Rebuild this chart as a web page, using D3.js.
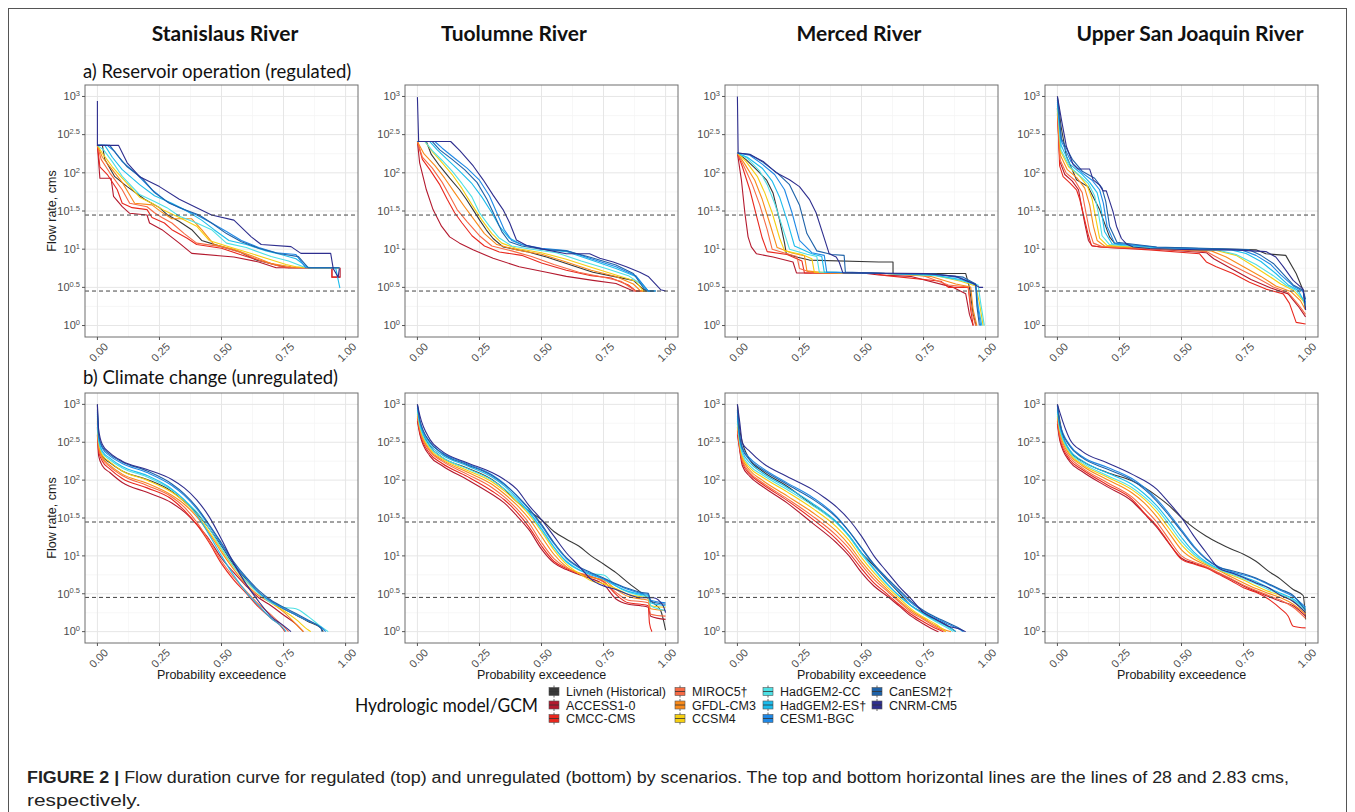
<!DOCTYPE html>
<meta charset="utf-8">
<script src="https://d3js.org/d3.v7.min.js"></script>
<style>
  body { margin: 0; background: #fff; }
  .tick-lab { font-family: "Liberation Sans", Arial, sans-serif; font-size: 11px; fill: #4d4d4d; }
  .ax-title { font-family: "Liberation Sans", Arial, sans-serif; font-size: 12.5px; fill: #1a1a1a; }
  .leg-lab { font-family: "Liberation Sans", Arial, sans-serif; font-size: 12.5px; fill: #1a1a1a; }
</style>
<svg></svg>
<script>

// ---------- DATA ----------

var seriesNames = ["Livneh (Historical)", "ACCESS1-0", "CMCC-CMS", "MIROC5\u2020", "GFDL-CM3", "CCSM4",
  "HadGEM2-CC", "HadGEM2-ES\u2020", "CESM1-BGC", "CanESM2\u2020", "CNRM-CM5"];
var seriesColors = ["#383838", "#b3192e", "#e8281e", "#f66a45", "#f98a1a", "#f5cf12",
  "#4ee0e4", "#1cbcec", "#1f88e5", "#1f62a8", "#2e2e8e"];

var rivers = ["Stanislaus River", "Tuolumne River", "Merced River", "Upper San Joaquin River"];
var xTicks = [0, 0.25, 0.5, 0.75, 1];
var yTickExps = [0, 0.5, 1, 1.5, 2, 2.5, 3];
var thresholds = [28, 2.83]; // cms

// flow duration curves: [probability exceedence, flow cms], one list per series (order of seriesNames)

// a) regulated
var stanReg = [
  [[0,229],[0.02,229],[0.03,149],[0.07,89],[0.12,66],[0.19,45],[0.25,35],[0.28,28.5],[0.33,23],[0.38,18],[0.42,13],[0.5,10.8],[0.57,9.3],[0.64,7.2],[0.72,6.2],[0.77,5.7],[0.975,5.7]],
  [[0,229],[0.01,85],[0.055,85],[0.065,49],[0.10,36],[0.13,29.5],[0.20,28],[0.21,22],[0.26,18],[0.33,12],[0.38,8.8],[0.55,7.9],[0.65,6.8],[0.72,5.7],[0.945,5.7],[0.945,4.3],[0.978,4.3],[0.978,5.7]],
  [[0,229],[0.01,120],[0.04,95],[0.08,60],[0.10,40],[0.14,35],[0.20,33],[0.22,26],[0.27,22],[0.3,18],[0.36,14],[0.40,11.5],[0.5,10.3],[0.6,8],[0.7,6.5],[0.76,5.7],[0.945,5.7],[0.945,4.3],[0.978,4.3]],
  [[0,229],[0.015,150],[0.05,100],[0.1,60],[0.13,40],[0.2,36],[0.23,30],[0.26,26],[0.3,22],[0.35,16],[0.4,12],[0.5,10.8],[0.58,9],[0.66,7],[0.74,5.9],[0.8,5.7],[0.975,5.7]],
  [[0,229],[0.02,160],[0.06,110],[0.1,75],[0.15,40],[0.22,38],[0.25,32],[0.3,25],[0.38,25],[0.42,18],[0.47,11.5],[0.55,10],[0.63,8],[0.7,6.5],[0.78,5.9],[0.83,5.7],[0.975,5.7]],
  [[0,229],[0.02,180],[0.06,120],[0.1,85],[0.17,48],[0.22,40],[0.27,32],[0.33,26],[0.4,20],[0.45,13],[0.52,11],[0.6,9.2],[0.68,7.6],[0.76,6.3],[0.8,5.9],[0.85,5.7],[0.975,5.7]],
  [[0,229],[0.025,200],[0.06,140],[0.1,90],[0.17,52],[0.23,42],[0.28,35],[0.33,27],[0.4,22],[0.46,18],[0.52,12],[0.6,10.5],[0.7,8],[0.77,7],[0.83,5.9],[0.87,5.7],[0.975,5.7]],
  [[0,229],[0.03,229],[0.06,160],[0.1,110],[0.17,70],[0.23,50],[0.3,40],[0.35,33],[0.42,24],[0.47,18],[0.53,13],[0.6,11.5],[0.68,9.5],[0.74,8.5],[0.8,7.5],[0.85,5.7],[0.96,5.7],[0.977,3.1]],
  [[0,229],[0.04,229],[0.07,190],[0.1,140],[0.16,95],[0.22,60],[0.28,42],[0.33,35],[0.4,28],[0.46,22],[0.52,17],[0.58,13],[0.65,10.5],[0.72,9],[0.8,8.5],[0.84,5.7],[0.975,5.7]],
  [[0,229],[0.05,229],[0.08,170],[0.12,120],[0.18,85],[0.23,55],[0.29,40],[0.35,33],[0.41,28],[0.46,22],[0.52,16],[0.58,12.5],[0.65,10.3],[0.73,8.8],[0.81,8],[0.85,5.7],[0.975,5.7]],
  [[0,870],[0,229],[0.085,229],[0.12,135],[0.17,89],[0.25,66],[0.33,45],[0.40,35],[0.46,28],[0.55,24],[0.62,14.5],[0.66,11.5],[0.78,10.8],[0.82,8.8],[0.94,8.8],[0.95,5.6],[0.97,4.3],[0.975,5.6]]
];

var tuolReg = [
  [[0,257],[0.036,257],[0.056,174],[0.09,123],[0.13,85],[0.17,60],[0.197,45],[0.224,33],[0.251,24],[0.278,17.8],[0.305,13.8],[0.345,10.7],[0.44,9.3],[0.52,7.9],[0.6,6.5],[0.707,5.0],[0.79,4.4],[0.87,3.9],[0.91,3.0],[0.935,2.83],[0.96,2.83]],
  [[0,257],[0.009,135],[0.036,60],[0.063,33],[0.097,20],[0.13,14.5],[0.17,12],[0.224,9.8],[0.305,7.6],[0.41,5.9],[0.52,5.0],[0.6,4.4],[0.707,3.9],[0.8,3.55],[0.87,2.83],[0.9,2.83]],
  [[0,257],[0.02,150],[0.05,110],[0.09,70],[0.12,45],[0.15,30],[0.18,22],[0.22,15],[0.27,11],[0.33,9.2],[0.42,8.3],[0.5,6.6],[0.6,5.3],[0.7,4.5],[0.78,4.2],[0.85,3.4],[0.88,2.83],[0.91,2.83]],
  [[0,257],[0.02,160],[0.06,115],[0.1,75],[0.13,50],[0.16,33],[0.2,23],[0.25,15],[0.3,11],[0.38,9.5],[0.46,8],[0.55,6.3],[0.65,5],[0.75,4.3],[0.82,3.8],[0.88,2.83],[0.92,2.83]],
  [[0,257],[0.025,180],[0.07,125],[0.11,85],[0.15,55],[0.19,36],[0.23,24],[0.27,16],[0.32,11.5],[0.4,9.8],[0.5,8.6],[0.6,6.8],[0.7,5.3],[0.8,4.4],[0.87,3.5],[0.9,2.83],[0.93,2.83]],
  [[0,257],[0.03,257],[0.06,190],[0.1,135],[0.14,95],[0.18,62],[0.22,38],[0.26,24],[0.3,16],[0.34,12],[0.4,10.2],[0.5,9],[0.6,7.4],[0.7,5.8],[0.8,4.6],[0.88,3.8],[0.91,2.83],[0.94,2.83]],
  [[0,257],[0.03,257],[0.06,195],[0.1,145],[0.14,105],[0.18,72],[0.22,48],[0.25,30],[0.29,20],[0.33,14],[0.38,11],[0.46,10],[0.56,9],[0.66,7],[0.76,5.6],[0.85,4.5],[0.9,3.5],[0.93,2.83],[0.95,2.83]],
  [[0,257],[0.05,257],[0.08,200],[0.12,150],[0.17,105],[0.22,72],[0.26,48],[0.3,30],[0.33,20],[0.37,14],[0.42,11.5],[0.5,10],[0.6,9.3],[0.7,7.2],[0.8,5.6],[0.88,4.4],[0.93,2.83],[0.96,2.83]],
  [[0,257],[0.07,257],[0.1,210],[0.15,155],[0.2,115],[0.25,80],[0.29,50],[0.32,30],[0.35,18],[0.38,13],[0.42,11.5],[0.5,10.3],[0.6,9.6],[0.7,7.5],[0.8,5.9],[0.88,4.5],[0.93,2.83],[0.96,2.83]],
  [[0,257],[0.06,257],[0.09,200],[0.14,150],[0.19,110],[0.24,75],[0.28,45],[0.31,28],[0.34,17],[0.37,12.5],[0.42,11],[0.5,10],[0.6,9.5],[0.7,7.8],[0.8,6.2],[0.87,4.8],[0.92,2.83],[0.95,2.83]],
  [[0,980],[0.005,257],[0.134,257],[0.171,195],[0.225,123],[0.265,81],[0.305,51],[0.345,33],[0.372,22],[0.399,13.2],[0.44,11.2],[0.52,9.8],[0.60,8.7],[0.694,8.7],[0.735,7.6],[0.789,6.8],[0.842,5.9],[0.896,5.0],[0.93,4.4],[0.98,2.95],[1.0,2.83]]
];

var merReg = [
  [[0,182],[0.036,148],[0.077,110],[0.117,81],[0.144,54],[0.17,24],[0.19,12],[0.197,8.7],[0.238,7.9],[0.29,7.2],[0.57,6.8],[0.627,6.8],[0.627,4.8],[0.92,4.8],[0.935,3.16],[0.95,1.4],[0.962,1.0]],
  [[0,182],[0.016,81],[0.03,30],[0.043,14.5],[0.056,10.7],[0.077,8.7],[0.144,7.9],[0.224,6.8],[0.238,4.9],[0.52,4.8],[0.57,4.6],[0.7,4.4],[0.87,3.16],[0.92,2.6],[0.935,1.4],[0.95,1.0]],
  [[0,182],[0.02,120],[0.05,60],[0.08,25],[0.1,14],[0.12,9.3],[0.2,8.5],[0.26,7],[0.27,4.9],[0.55,4.8],[0.6,4.5],[0.82,3.8],[0.85,3.16],[0.93,3.16],[0.94,1.6],[0.95,1.0]],
  [[0,182],[0.03,115],[0.06,70],[0.09,38],[0.12,18],[0.14,10],[0.2,8.7],[0.24,8],[0.25,5.6],[0.3,4.9],[0.6,4.8],[0.75,4.5],[0.85,3.4],[0.93,3.2],[0.945,1.5],[0.96,1.0]],
  [[0,182],[0.03,130],[0.07,80],[0.1,45],[0.13,22],[0.16,10.5],[0.22,8.9],[0.27,8.2],[0.28,5.2],[0.35,4.9],[0.6,4.8],[0.78,4.4],[0.88,3.5],[0.94,3.2],[0.95,1.6],[0.965,1.0]],
  [[0,182],[0.035,140],[0.08,90],[0.11,55],[0.14,30],[0.17,14],[0.19,9.5],[0.26,8.5],[0.3,7.5],[0.31,5.0],[0.6,4.8],[0.8,4.5],[0.9,3.8],[0.96,3.3],[0.975,2.0],[0.99,1.0]],
  [[0,182],[0.04,155],[0.09,105],[0.12,70],[0.15,40],[0.18,20],[0.21,10],[0.28,8.6],[0.32,8],[0.33,5.0],[0.6,4.8],[0.8,4.5],[0.9,3.9],[0.97,3.4],[0.98,2.0],[0.995,1.0]],
  [[0,182],[0.04,160],[0.1,115],[0.14,78],[0.17,48],[0.2,24],[0.23,11],[0.3,8.7],[0.34,8],[0.35,5.0],[0.6,4.8],[0.79,4.6],[0.9,4.0],[0.96,3.4],[0.97,1.8],[0.985,1.0]],
  [[0,182],[0.05,170],[0.1,130],[0.15,95],[0.19,60],[0.22,30],[0.25,13],[0.3,9],[0.35,8.3],[0.36,5.0],[0.6,4.8],[0.8,4.7],[0.9,4.2],[0.96,3.5],[0.97,1.6],[0.98,1.0]],
  [[0,182],[0.05,175],[0.1,140],[0.16,100],[0.21,70],[0.25,38],[0.28,16],[0.32,9.5],[0.38,8.5],[0.43,8.3],[0.435,5.0],[0.6,4.8],[0.8,4.7],[0.91,4.3],[0.96,3.5],[0.965,1.8],[0.975,1.0]],
  [[0,1000],[0.003,182],[0.05,174],[0.104,141],[0.157,100],[0.21,81],[0.25,66],[0.29,45],[0.317,30],[0.344,16],[0.37,8.7],[0.398,7.9],[0.41,6.8],[0.425,4.9],[0.76,4.8],[0.88,4.4],[0.95,3.55],[0.975,3.16],[0.99,3.16]]
];

var usjReg = [
  [[0,1000],[0.015,400],[0.036,166],[0.077,81],[0.123,66],[0.17,33],[0.21,14.5],[0.23,12],[0.278,10.7],[0.573,10.2],[0.8,9.8],[0.84,8.7],[0.92,8.3],[0.962,4.8],[0.99,2.9],[1.0,1.6]],
  [[0,600],[0.01,140],[0.03,95],[0.06,78],[0.085,60],[0.095,40],[0.11,22],[0.125,13],[0.14,11],[0.2,10.5],[0.4,10],[0.6,9.0],[0.63,7.5],[0.7,5.6],[0.78,4.0],[0.86,3.1],[0.93,2.6],[0.97,1.8],[1.0,1.3]],
  [[0,700],[0.009,123],[0.023,89],[0.05,74],[0.077,60],[0.09,45],[0.103,30],[0.123,16],[0.137,11.2],[0.17,10.7],[0.372,9.8],[0.573,8.7],[0.6,6.8],[0.64,5.9],[0.707,4.8],[0.774,3.7],[0.84,3.0],[0.91,2.6],[0.935,1.95],[0.962,1.1],[1.0,1.05]],
  [[0,650],[0.01,150],[0.035,100],[0.07,80],[0.1,55],[0.115,30],[0.13,17],[0.145,12],[0.18,10.8],[0.4,10.1],[0.6,9.3],[0.65,7.6],[0.72,5.8],[0.8,4.3],[0.87,3.2],[0.93,2.7],[0.97,1.9],[1.0,1.4]],
  [[0,700],[0.012,170],[0.04,110],[0.08,85],[0.11,63],[0.13,38],[0.145,20],[0.16,13],[0.19,11],[0.4,10.2],[0.62,9.5],[0.68,7.9],[0.75,5.9],[0.82,4.4],[0.88,3.3],[0.94,2.8],[0.98,2.1],[1.0,1.6]],
  [[0,750],[0.013,190],[0.045,120],[0.09,90],[0.12,68],[0.14,45],[0.155,25],[0.17,14],[0.2,11.2],[0.4,10.3],[0.64,9.6],[0.72,8.3],[0.78,6.3],[0.85,4.5],[0.9,3.5],[0.95,2.9],[0.99,2.1],[1.0,1.8]],
  [[0,800],[0.014,200],[0.05,120],[0.09,92],[0.125,72],[0.15,50],[0.165,30],[0.18,15],[0.21,11.5],[0.4,10.4],[0.65,9.7],[0.72,8.5],[0.8,6.3],[0.87,4.5],[0.92,3.4],[0.96,2.9],[0.99,2.2],[1.0,1.8]],
  [[0,850],[0.015,230],[0.05,130],[0.1,95],[0.13,75],[0.16,55],[0.175,35],[0.19,17],[0.22,11.8],[0.4,10.5],[0.7,9.8],[0.76,8.8],[0.82,6.9],[0.88,4.8],[0.93,3.4],[0.97,2.9],[1.0,1.9]],
  [[0,900],[0.016,260],[0.055,140],[0.1,100],[0.14,80],[0.17,60],[0.185,40],[0.2,20],[0.23,12],[0.4,10.6],[0.74,9.8],[0.8,8.3],[0.86,6.3],[0.9,4.6],[0.95,3.3],[0.99,2.8],[1.0,2.0]],
  [[0,950],[0.016,280],[0.06,150],[0.1,105],[0.15,85],[0.18,63],[0.195,42],[0.21,20],[0.24,12.3],[0.4,10.7],[0.77,9.9],[0.82,8.3],[0.87,6.5],[0.91,4.7],[0.95,3.4],[0.99,2.9],[1.0,2.2]],
  [[0,1000],[0.016,500],[0.036,224],[0.063,129],[0.083,112],[0.13,112],[0.144,81],[0.17,69],[0.184,58],[0.197,58],[0.224,31],[0.238,20],[0.258,13.8],[0.278,11.7],[0.305,10.7],[0.372,10.2],[0.573,9.8],[0.707,9.8],[0.84,9.3],[0.88,7.9],[0.91,5.9],[0.95,3.9],[0.99,3.0],[1.0,1.6]]
];

// b) unregulated
var stanUnreg = [
  [[0,1000],[0.005,282],[0.02,209],[0.05,170],[0.1,132],[0.2,102],[0.3,71],[0.35,52],[0.4,37],[0.45,23],[0.5,13.5],[0.55,7.6],[0.6,4.9],[0.65,3.3],[0.7,2.5],[0.75,2.0],[0.8,1.66],[0.85,1.35],[0.9,1.12],[0.91,1.0]],
  [[0,398],[0.005,209],[0.02,155],[0.05,126],[0.1,93],[0.2,69],[0.3,50],[0.35,38],[0.4,26],[0.45,16.6],[0.5,9.3],[0.55,6.0],[0.6,4.0],[0.65,2.8],[0.7,2.2],[0.75,1.66],[0.8,1.26],[0.83,1.0]],
  [[0,501],[0.005,240],[0.02,178],[0.05,141],[0.1,105],[0.2,79],[0.3,56],[0.35,40],[0.4,26],[0.45,15],[0.5,7.9],[0.55,4.8],[0.6,3.2],[0.65,2.1],[0.7,1.5],[0.75,1.07],[0.755,1.0]],
  [[0,560],[0.005,263],[0.02,191],[0.05,151],[0.1,115],[0.2,85],[0.3,60],[0.35,44],[0.4,28],[0.45,15.8],[0.5,8.5],[0.55,5.2],[0.6,3.4],[0.65,2.3],[0.7,1.66],[0.75,1.17],[0.77,1.0]],
  [[0,600],[0.005,282],[0.02,200],[0.05,158],[0.1,120],[0.2,91],[0.3,63],[0.35,48],[0.4,33],[0.45,20],[0.5,11.2],[0.55,6.6],[0.6,4.2],[0.65,3.0],[0.7,2.4],[0.75,1.82],[0.8,1.26],[0.83,1.0]],
  [[0,650],[0.005,316],[0.02,214],[0.05,174],[0.1,132],[0.2,100],[0.3,69],[0.35,52],[0.4,35],[0.45,21],[0.5,12],[0.55,7.1],[0.6,4.6],[0.65,3.2],[0.7,2.4],[0.75,1.9],[0.8,1.45],[0.85,1.05],[0.86,1.0]],
  [[0,700],[0.005,331],[0.02,229],[0.05,186],[0.1,145],[0.2,110],[0.3,74],[0.35,55],[0.4,38],[0.45,23],[0.5,12.6],[0.55,7.2],[0.6,4.6],[0.65,3.2],[0.7,2.4],[0.75,2.1],[0.8,2.0],[0.85,1.58],[0.9,1.17],[0.93,1.0]],
  [[0,750],[0.005,355],[0.02,240],[0.05,195],[0.1,151],[0.2,115],[0.3,76],[0.35,55],[0.4,35],[0.45,19],[0.5,10],[0.55,5.5],[0.6,3.3],[0.65,2.2],[0.7,1.5],[0.75,1.1],[0.76,1.0]],
  [[0,800],[0.005,380],[0.02,263],[0.05,209],[0.1,166],[0.2,126],[0.3,85],[0.35,63],[0.4,42],[0.45,25],[0.5,14.1],[0.55,7.9],[0.6,5.0],[0.65,3.3],[0.7,2.5],[0.75,2.0],[0.8,1.66],[0.85,1.38],[0.9,1.15],[0.92,1.0]],
  [[0,850],[0.005,398],[0.02,275],[0.05,219],[0.1,174],[0.2,132],[0.3,89],[0.35,66],[0.4,44],[0.45,26],[0.5,14.8],[0.55,8.3],[0.6,5.2],[0.65,3.5],[0.7,2.6],[0.75,2.1],[0.8,1.74],[0.85,1.41],[0.9,1.12],[0.905,1.0]],
  [[0,1000],[0.005,468],[0.02,295],[0.05,229],[0.1,178],[0.2,138],[0.3,102],[0.35,79],[0.4,55],[0.45,33],[0.5,16.6],[0.55,7.9],[0.6,4.2],[0.65,2.5],[0.7,1.58],[0.75,1.2],[0.78,1.0]]
];

var tuolUnreg = [
  [[0,1000],[0.01,560],[0.05,282],[0.1,200],[0.2,145],[0.3,102],[0.35,76],[0.4,52],[0.45,39],[0.5,30],[0.55,21],[0.6,16.6],[0.65,13.5],[0.7,10],[0.75,7.8],[0.8,6.0],[0.85,4.4],[0.9,3.3],[0.95,2.4],[0.98,1.9],[1.0,1.05]],
  [[0,600],[0.01,400],[0.05,209],[0.1,155],[0.2,102],[0.3,65],[0.35,50],[0.4,34],[0.45,22],[0.5,12.3],[0.55,8.1],[0.6,6.6],[0.65,5.7],[0.7,5.0],[0.75,4.2],[0.8,2.7],[0.85,2.3],[0.9,2.2],[0.93,2.1],[0.94,1.6],[1.0,1.45]],
  [[0,650],[0.01,420],[0.05,224],[0.1,166],[0.2,112],[0.3,72],[0.35,55],[0.4,38],[0.45,24],[0.5,13.5],[0.55,8.5],[0.6,6.8],[0.65,5.9],[0.7,5.3],[0.75,4.6],[0.8,3.1],[0.85,2.4],[0.9,2.3],[0.93,2.2],[0.935,1.3],[0.945,1.0]],
  [[0,700],[0.01,450],[0.05,240],[0.1,178],[0.2,120],[0.3,80],[0.35,60],[0.4,42],[0.45,27],[0.5,15],[0.55,9.2],[0.6,7.0],[0.65,6.0],[0.7,5.4],[0.75,4.5],[0.8,3.3],[0.85,2.6],[0.9,2.5],[0.93,2.4],[0.94,1.7],[1.0,1.6]],
  [[0,750],[0.01,480],[0.05,250],[0.1,185],[0.2,128],[0.3,88],[0.35,66],[0.4,47],[0.45,31],[0.5,18],[0.55,10.5],[0.6,7.2],[0.65,5.9],[0.7,5.2],[0.75,4.8],[0.8,3.6],[0.85,2.9],[0.9,2.7],[0.93,2.6],[0.94,2.0],[1.0,1.9]],
  [[0,800],[0.01,500],[0.05,262],[0.1,192],[0.2,135],[0.3,95],[0.35,72],[0.4,52],[0.45,35],[0.5,21],[0.55,12],[0.6,7.8],[0.65,5.9],[0.7,4.7],[0.75,4.3],[0.8,3.7],[0.85,3.1],[0.9,2.9],[0.93,2.8],[0.94,2.2],[1.0,2.1]],
  [[0,850],[0.01,520],[0.05,275],[0.1,200],[0.2,142],[0.3,100],[0.35,77],[0.4,55],[0.45,37],[0.5,22],[0.55,12.8],[0.6,8.3],[0.65,6.5],[0.7,5.8],[0.75,5.6],[0.8,4.0],[0.85,3.3],[0.9,3.0],[0.93,2.9],[0.94,2.2],[1.0,1.9]],
  [[0,900],[0.01,560],[0.05,295],[0.1,215],[0.2,155],[0.3,110],[0.35,84],[0.4,58],[0.45,38],[0.5,23],[0.55,13.2],[0.6,8.5],[0.65,6.6],[0.7,5.6],[0.75,4.9],[0.8,4.0],[0.85,3.4],[0.9,3.1],[0.93,3.0],[0.94,2.4],[1.0,2.2]],
  [[0,950],[0.01,600],[0.05,316],[0.1,230],[0.2,165],[0.3,118],[0.35,90],[0.4,62],[0.45,41],[0.5,25],[0.55,14.5],[0.6,9.2],[0.65,7.0],[0.7,5.8],[0.75,5.0],[0.8,4.2],[0.85,3.6],[0.9,3.2],[0.93,3.1],[0.94,2.6],[1.0,2.4]],
  [[0,980],[0.01,620],[0.05,320],[0.1,225],[0.2,160],[0.3,115],[0.35,88],[0.4,63],[0.45,42],[0.5,26],[0.55,15],[0.6,9.5],[0.65,7.2],[0.7,6.0],[0.75,5.1],[0.8,4.3],[0.85,3.7],[0.9,3.3],[0.93,3.2],[0.94,2.5],[1.0,2.3]],
  [[0,1000],[0.01,708],[0.05,347],[0.1,240],[0.2,170],[0.3,126],[0.35,102],[0.4,76],[0.45,46],[0.5,30],[0.55,18.2],[0.6,11],[0.65,7.4],[0.7,4.9],[0.75,4.0],[0.8,3.6],[0.85,3.1],[0.9,2.8],[0.95,2.8],[0.99,2.2],[1.0,1.78]]
];

var merUnreg = [
  [[0,1000],[0.01,450],[0.05,186],[0.1,132],[0.2,83],[0.3,48],[0.35,37],[0.4,27.5],[0.45,18.2],[0.5,11],[0.55,7.4],[0.6,4.9],[0.65,3.3],[0.7,2.2],[0.75,1.78],[0.8,1.45],[0.85,1.18],[0.88,1.0]],
  [[0,400],[0.005,309],[0.02,155],[0.05,112],[0.1,83],[0.2,50],[0.3,27.5],[0.4,14.8],[0.45,10],[0.5,6.0],[0.55,4.0],[0.6,3.0],[0.65,2.2],[0.7,1.6],[0.75,1.26],[0.8,1.03],[0.81,1.0]],
  [[0,450],[0.005,330],[0.02,170],[0.05,120],[0.1,89],[0.2,54],[0.3,31],[0.4,16.5],[0.45,11],[0.5,6.8],[0.55,4.4],[0.6,3.2],[0.65,2.3],[0.7,1.7],[0.75,1.35],[0.8,1.1],[0.83,1.0]],
  [[0,500],[0.005,350],[0.02,180],[0.05,126],[0.1,93],[0.2,57],[0.3,34],[0.4,18.5],[0.45,12.5],[0.5,7.6],[0.55,4.9],[0.6,3.5],[0.65,2.5],[0.7,1.8],[0.75,1.45],[0.8,1.15],[0.84,1.0]],
  [[0,550],[0.005,380],[0.02,195],[0.05,135],[0.1,100],[0.2,62],[0.3,38],[0.4,21],[0.45,14],[0.5,8.4],[0.55,5.4],[0.6,3.7],[0.65,2.6],[0.7,1.9],[0.75,1.5],[0.8,1.2],[0.85,1.02],[0.86,1.0]],
  [[0,600],[0.005,400],[0.02,205],[0.05,145],[0.1,110],[0.2,70],[0.3,43],[0.4,24],[0.45,16],[0.5,9.5],[0.55,6.0],[0.6,4.0],[0.65,2.8],[0.7,2.0],[0.75,1.55],[0.8,1.25],[0.84,1.0]],
  [[0,650],[0.005,420],[0.02,220],[0.05,155],[0.1,118],[0.2,75],[0.3,47],[0.4,27],[0.45,18],[0.5,10.5],[0.55,6.6],[0.6,4.3],[0.65,3.0],[0.7,2.2],[0.75,1.7],[0.8,1.35],[0.85,1.1],[0.87,1.0]],
  [[0,700],[0.005,450],[0.02,240],[0.05,170],[0.1,125],[0.2,80],[0.3,50],[0.4,28],[0.45,18.5],[0.5,11],[0.55,6.8],[0.6,4.4],[0.65,3.0],[0.7,2.2],[0.75,1.72],[0.8,1.4],[0.85,1.15],[0.88,1.0]],
  [[0,800],[0.005,500],[0.02,270],[0.05,195],[0.1,145],[0.2,92],[0.3,60],[0.4,33],[0.45,21],[0.5,12.5],[0.55,7.6],[0.6,5.0],[0.65,3.4],[0.7,2.4],[0.75,1.85],[0.8,1.5],[0.85,1.25],[0.9,1.05],[0.91,1.0]],
  [[0,850],[0.005,520],[0.02,260],[0.05,185],[0.1,138],[0.2,88],[0.3,57],[0.4,32],[0.45,21],[0.5,12.8],[0.55,7.8],[0.6,5.2],[0.65,3.6],[0.7,2.5],[0.75,1.9],[0.8,1.55],[0.85,1.3],[0.9,1.08],[0.915,1.0]],
  [[0,1000],[0.01,560],[0.02,309],[0.05,240],[0.1,170],[0.2,112],[0.3,76],[0.35,59],[0.4,44],[0.45,30],[0.5,18.2],[0.55,10],[0.6,6.3],[0.65,4.0],[0.7,2.7],[0.75,1.78],[0.8,1.45],[0.85,1.18],[0.9,1.07],[0.92,1.0]]
];

var usjUnreg = [
  [[0,1000],[0.01,600],[0.05,240],[0.1,178],[0.2,126],[0.3,98],[0.4,62],[0.45,46],[0.5,32],[0.55,23.4],[0.6,18.2],[0.65,14.8],[0.7,12.3],[0.75,10.5],[0.8,8.5],[0.85,6.3],[0.9,4.9],[0.95,3.6],[0.99,3.0],[1.0,1.45]],
  [[0,550],[0.01,330],[0.05,175],[0.1,130],[0.2,82],[0.3,53],[0.35,36],[0.4,24],[0.45,14.5],[0.5,9.3],[0.55,8.0],[0.6,7.1],[0.65,5.9],[0.7,4.9],[0.75,4.0],[0.8,3.4],[0.85,2.9],[0.9,2.5],[0.95,2.2],[1.0,1.6]],
  [[0,600],[0.01,350],[0.05,186],[0.1,138],[0.2,87],[0.3,56],[0.35,37],[0.4,25],[0.45,14.8],[0.5,9],[0.55,7.8],[0.6,6.9],[0.65,5.7],[0.7,4.7],[0.75,3.8],[0.8,3.3],[0.85,2.7],[0.9,2.0],[0.93,1.6],[0.95,1.18],[1.0,1.12]],
  [[0,650],[0.01,380],[0.05,200],[0.1,145],[0.2,93],[0.3,60],[0.35,42],[0.4,28],[0.45,16.5],[0.5,10],[0.55,8.3],[0.6,7.2],[0.65,6.0],[0.7,5.0],[0.75,4.1],[0.8,3.5],[0.85,3.0],[0.9,2.6],[0.95,2.1],[1.0,1.5]],
  [[0,700],[0.01,420],[0.05,215],[0.1,155],[0.2,102],[0.3,68],[0.35,50],[0.4,33],[0.45,20],[0.5,12],[0.55,9.0],[0.6,7.6],[0.65,6.4],[0.7,5.3],[0.75,4.4],[0.8,3.7],[0.85,3.2],[0.9,2.8],[0.95,2.3],[1.0,1.7]],
  [[0,750],[0.01,450],[0.05,225],[0.1,162],[0.2,110],[0.3,75],[0.35,56],[0.4,38],[0.45,23],[0.5,14],[0.55,9.8],[0.6,7.8],[0.65,6.5],[0.7,5.6],[0.75,4.8],[0.8,4.0],[0.85,3.4],[0.9,3.0],[0.95,2.5],[1.0,1.8]],
  [[0,800],[0.01,470],[0.05,235],[0.1,170],[0.2,115],[0.3,80],[0.35,60],[0.4,42],[0.45,26],[0.5,15.5],[0.55,10.5],[0.6,8.0],[0.65,6.6],[0.7,5.8],[0.75,5.0],[0.8,4.3],[0.85,3.6],[0.9,3.1],[0.95,2.6],[1.0,1.9]],
  [[0,850],[0.01,500],[0.05,250],[0.1,180],[0.2,125],[0.3,88],[0.35,66],[0.4,46],[0.45,29],[0.5,17.5],[0.55,11.2],[0.6,8.3],[0.65,6.8],[0.7,6.0],[0.75,5.3],[0.8,4.6],[0.85,3.8],[0.9,3.2],[0.95,2.7],[1.0,2.0]],
  [[0,950],[0.01,560],[0.05,290],[0.1,205],[0.2,148],[0.3,105],[0.35,80],[0.4,56],[0.45,36],[0.5,22],[0.55,13.5],[0.6,9.2],[0.65,7.2],[0.7,6.2],[0.75,5.6],[0.8,5.0],[0.85,4.2],[0.9,3.5],[0.95,2.9],[1.0,2.1]],
  [[0,980],[0.01,540],[0.05,280],[0.1,198],[0.2,140],[0.3,100],[0.35,76],[0.4,53],[0.45,34],[0.5,21],[0.55,13],[0.6,9.0],[0.65,7.1],[0.7,6.4],[0.75,5.8],[0.8,5.1],[0.85,4.3],[0.9,3.6],[0.95,3.0],[1.0,1.9]],
  [[0,1000],[0.01,776],[0.05,347],[0.1,240],[0.2,170],[0.3,120],[0.4,76],[0.45,50],[0.5,32],[0.55,18.2],[0.6,11],[0.65,6.9],[0.7,6.0],[0.75,5.2],[0.8,4.4],[0.85,3.8],[0.9,3.0],[0.95,2.5],[1.0,1.78]]
];

var regPanels = [stanReg, tuolReg, merReg, usjReg];
var unregPanels = [stanUnreg, tuolUnreg, merUnreg, usjUnreg];


// ---------- LAYOUT ----------

var width = 1355;
var height = 812;
var panelLefts = [85, 405, 725, 1045];
var panelW = 273;
var rows = [
  {top: 85, bottom: 337, data: regPanels, smooth: false},
  {top: 393, bottom: 643, data: unregPanels, smooth: true}
];

var svg = d3.select("svg")
    .attr("width", width)
    .attr("height", height)
    .style("font-family", "Liberation Sans, Arial, sans-serif");

svg.append("rect")
    .attr("width", width).attr("height", height)
    .attr("fill", "#fff");

// outer frame of the figure
svg.append("rect")
    .attr("x", 8.5).attr("y", 8.5)
    .attr("width", 1338).attr("height", 830)
    .attr("fill", "none")
    .attr("stroke", "#555")
    .attr("stroke-width", 1);


// ---------- PANELS ----------

rows.forEach(function(row, ri) {
  panelLefts.forEach(function(left, ci) {

    var x = d3.scaleLinear()
        .domain([-0.05, 1.05])
        .range([left, left + panelW]);

    var y = d3.scaleLog()
        .domain([Math.pow(10, -0.15), Math.pow(10, 3.15)])
        .range([row.bottom, row.top]);

    var g = svg.append("g");

    g.append("rect")
        .attr("x", left).attr("y", row.top)
        .attr("width", panelW).attr("height", row.bottom - row.top)
        .attr("fill", "#fff");

    // minor grid
    var minorX = [0.125, 0.375, 0.625, 0.875];
    var minorY = [0.25, 0.75, 1.25, 1.75, 2.25, 2.75];
    g.selectAll(".gxm").data(minorX).enter().append("line")
        .attr("x1", d => x(d)).attr("x2", d => x(d))
        .attr("y1", row.top).attr("y2", row.bottom)
        .attr("stroke", "#f3f3f3").attr("stroke-width", 0.7);
    g.selectAll(".gym").data(minorY).enter().append("line")
        .attr("y1", d => y(Math.pow(10, d))).attr("y2", d => y(Math.pow(10, d)))
        .attr("x1", left).attr("x2", left + panelW)
        .attr("stroke", "#f3f3f3").attr("stroke-width", 0.7);

    // major grid
    g.selectAll(".gx").data(xTicks).enter().append("line")
        .attr("x1", d => x(d)).attr("x2", d => x(d))
        .attr("y1", row.top).attr("y2", row.bottom)
        .attr("stroke", "#e6e6e6").attr("stroke-width", 1);
    g.selectAll(".gy").data(yTickExps).enter().append("line")
        .attr("y1", d => y(Math.pow(10, d))).attr("y2", d => y(Math.pow(10, d)))
        .attr("x1", left).attr("x2", left + panelW)
        .attr("stroke", "#e6e6e6").attr("stroke-width", 1);

    // flow duration curves
    var line = d3.line()
        .x(d => x(d[0]))
        .y(d => y(d[1]))
        .curve(row.smooth ? d3.curveMonotoneX : d3.curveLinear);

    g.selectAll(".fdc")
        .data(row.data[ci])
        .enter().append("path")
          .attr("d", line)
          .attr("fill", "none")
          .attr("stroke", (d, i) => seriesColors[i])
          .attr("stroke-width", 1.1)
          .attr("stroke-linejoin", "round");

    // threshold lines
    g.selectAll(".thr").data(thresholds).enter().append("line")
        .attr("x1", left).attr("x2", left + panelW)
        .attr("y1", d => y(d)).attr("y2", d => y(d))
        .attr("stroke", "#444")
        .attr("stroke-width", 1)
        .attr("stroke-dasharray", "4,3");

    // border
    g.append("rect")
        .attr("x", left).attr("y", row.top)
        .attr("width", panelW).attr("height", row.bottom - row.top)
        .attr("fill", "none")
        .attr("stroke", "#6e6e6e")
        .attr("stroke-width", 1);

    // y ticks + labels
    var yt = g.selectAll(".yt").data(yTickExps).enter().append("g")
        .attr("transform", d => "translate(" + left + "," + y(Math.pow(10, d)) + ")");
    yt.append("line").attr("x1", -3).attr("x2", 0).attr("stroke", "#555");
    var ytxt = yt.append("text")
        .attr("class", "tick-lab")
        .attr("x", -5)
        .attr("dy", "0.35em")
        .attr("text-anchor", "end");
    ytxt.append("tspan").text("10");
    ytxt.append("tspan")
        .attr("dy", "-0.55em")
        .style("font-size", "7.5px")
        .text(d => d);

    // x ticks + labels
    var xt = g.selectAll(".xt").data(xTicks).enter().append("g")
        .attr("transform", d => "translate(" + x(d) + "," + row.bottom + ")");
    xt.append("line").attr("y1", 0).attr("y2", 3).attr("stroke", "#555");
    xt.append("text")
        .attr("class", "tick-lab")
        .attr("text-anchor", "end")
        .attr("transform", "translate(6,5) rotate(-45)")
        .attr("dy", "0.7em")
        .text(d => d3.format(".2f")(d));

    // axis titles
    if (ci === 0) {
      svg.append("text")
          .attr("class", "ax-title")
          .attr("text-anchor", "middle")
          .attr("transform", "translate(56," + ((row.top + row.bottom) / 2) + ") rotate(-90)")
          .text("Flow rate, cms");
    }
    if (ri === 1) {
      svg.append("text")
          .attr("class", "ax-title")
          .attr("text-anchor", "middle")
          .attr("x", left + panelW / 2)
          .attr("y", 679)
          .text("Probability exceedence");
    }
  });
});


// ---------- TITLES ----------

var titleX = [225, 514, 859, 1190];
svg.selectAll(".river").data(rivers).enter().append("text")
    .attr("x", (d, i) => titleX[i])
    .attr("y", 41)
    .attr("text-anchor", "middle")
    .style("font-family", "Lato, 'Open Sans', sans-serif")
    .style("font-weight", "bold")
    .style("font-size", "21px")
    .style("fill", "#111")
    .text(d => d);

svg.append("text")
    .attr("x", 83).attr("y", 78)
    .style("font-family", "Lato, 'Open Sans', sans-serif")
    .style("font-size", "18.5px")
    .style("fill", "#111")
    .text("a) Reservoir operation (regulated)");

svg.append("text")
    .attr("x", 83).attr("y", 384)
    .style("font-family", "Lato, 'Open Sans', sans-serif")
    .style("font-size", "18.5px")
    .style("fill", "#111")
    .text("b) Climate change (unregulated)");


// ---------- LEGEND ----------

svg.append("text")
    .attr("x", 355).attr("y", 712)
    .attr("textLength", 183)
    .attr("lengthAdjust", "spacingAndGlyphs")
    .style("font-family", "Lato, 'Open Sans', sans-serif")
    .style("font-size", "19px")
    .style("fill", "#111")
    .text("Hydrologic model/GCM");

var legColX = [554, 680, 768, 877];
var legRowY = [691.5, 705, 718.5];

var leg = svg.selectAll(".leg").data(seriesNames).enter().append("g")
    .attr("transform", (d, i) => "translate(" + legColX[Math.floor(i / 3)] + "," + legRowY[i % 3] + ")");

leg.append("line")
    .attr("y1", -6).attr("y2", 6)
    .attr("stroke", "#666").attr("stroke-width", 1);
leg.append("rect")
    .attr("x", -5).attr("y", -4)
    .attr("width", 10).attr("height", 8)
    .attr("fill", (d, i) => seriesColors[i])
    .attr("stroke", "#555").attr("stroke-width", 0.6);
leg.append("line")
    .attr("x1", -5).attr("x2", 5)
    .attr("stroke", "#333").attr("stroke-width", 0.8);
leg.append("text")
    .attr("class", "leg-lab")
    .attr("x", 12)
    .attr("dy", "0.36em")
    .text(d => d);


// ---------- CAPTION ----------

var cap = svg.append("text")
    .attr("x", 27).attr("y", 783)
    .attr("textLength", 1262)
    .attr("lengthAdjust", "spacingAndGlyphs")
    .style("font-family", "Liberation Sans, Arial, sans-serif")
    .style("font-size", "16px")
    .style("fill", "#222");
cap.append("tspan").style("font-weight", "bold").text("FIGURE 2 |");
cap.append("tspan").text(" Flow duration curve for regulated (top) and unregulated (bottom) by scenarios. The top and bottom horizontal lines are the lines of 28 and 2.83 cms,");

svg.append("text")
    .attr("x", 27).attr("y", 806)
    .attr("textLength", 114)
    .attr("lengthAdjust", "spacingAndGlyphs")
    .style("font-family", "Liberation Sans, Arial, sans-serif")
    .style("font-size", "16px")
    .style("fill", "#222")
    .text("respectively.");

</script>
